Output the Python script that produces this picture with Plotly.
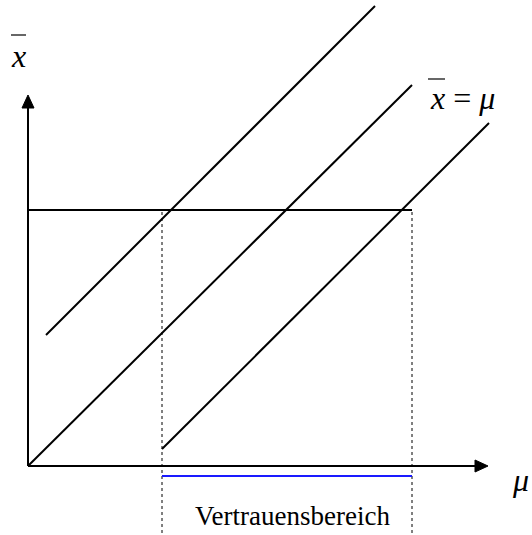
import plotly.graph_objects as go

# Diagram values (units: one unit per screen pixel, origin at the axes' corner)
axis_x_end = 447      # end of horizontal axis line
axis_x_tip = 460      # tip of the x arrow
axis_y_end = 358      # end of vertical axis line
axis_y_tip = 371      # tip of the y arrow
arrow_half = 6

xbar_obs = 256        # observed mean level (horizontal line)
mu_lo = 134           # lower bound of confidence interval
mu_hi = 384           # upper bound of confidence interval
interval_y = -10      # blue interval bar level
bottom_y = -69

upper_x = [18, 347]
upper_y = [131, 460]
mid_x = [0, 384]
mid_y = [0, 381]
lower_x = [134, 461]
lower_y = [17, 343]

label_interval = "Vertrauensbereich"

BLACK = "#000000"
BLUE = "#1a1aff"
SERIF = "Liberation Serif"

fig = go.Figure()

def seg(xs, ys, color=BLACK, width=2, dash=None):
    fig.add_trace(go.Scatter(x=xs, y=ys, mode="lines",
                             line=dict(color=color, width=width, dash=dash),
                             hoverinfo="skip", showlegend=False))

# axes
seg([0, axis_x_end], [0, 0])
seg([0, 0], [0, axis_y_end])
fig.add_trace(go.Scatter(x=[axis_x_end, axis_x_tip, axis_x_end, axis_x_end],
                         y=[arrow_half, 0, -arrow_half, arrow_half],
                         mode="lines", fill="toself", fillcolor=BLACK,
                         line=dict(color=BLACK, width=1), hoverinfo="skip", showlegend=False))
fig.add_trace(go.Scatter(x=[-arrow_half, 0, arrow_half, -arrow_half],
                         y=[axis_y_end, axis_y_tip, axis_y_end, axis_y_end],
                         mode="lines", fill="toself", fillcolor=BLACK,
                         line=dict(color=BLACK, width=1), hoverinfo="skip", showlegend=False))

# diagonals
seg(upper_x, upper_y)
seg(mid_x, mid_y)
seg(lower_x, lower_y)

# horizontal level line
seg([0, mu_hi], [xbar_obs, xbar_obs])

# dotted verticals
seg([mu_lo, mu_lo], [xbar_obs - 2, bottom_y], width=1, dash="dot")
seg([mu_hi, mu_hi], [xbar_obs - 2, bottom_y], width=1, dash="dot")

# confidence interval bar
seg([mu_lo, mu_hi], [interval_y, interval_y], color=BLUE, width=2)

# overbars for x-bar labels
seg([-17, -2], [431, 431], width=1.2)
seg([400, 417], [387, 387], width=1.2)

ann = [
    dict(x=-10, y=410, text="<i>x</i>", font=dict(size=32)),
    dict(x=400, y=368, text="<i>x</i> = <i>μ</i>", font=dict(size=32), xanchor="left"),
    dict(x=492, y=-14, text="<i>μ</i>", font=dict(size=32)),
    dict(x=264, y=-50, text=label_interval, font=dict(size=27)),
]
for a in ann:
    a.setdefault("xanchor", "center")
    a["font"]["family"] = SERIF
    a["font"]["color"] = BLACK
    fig.add_annotation(xref="x", yref="y", showarrow=False, yanchor="middle", **a)

fig.update_layout(
    width=532, height=535,
    margin=dict(l=0, r=0, t=0, b=0),
    paper_bgcolor="white", plot_bgcolor="white",
    xaxis=dict(range=[-28, 504], visible=False, fixedrange=True),
    yaxis=dict(range=[bottom_y, 466], visible=False, fixedrange=True),
)

fig.write_html("out.html", config={"displayModeBar": False},
               post_script="document.body.style.margin='0';document.body.style.overflow='hidden';")
